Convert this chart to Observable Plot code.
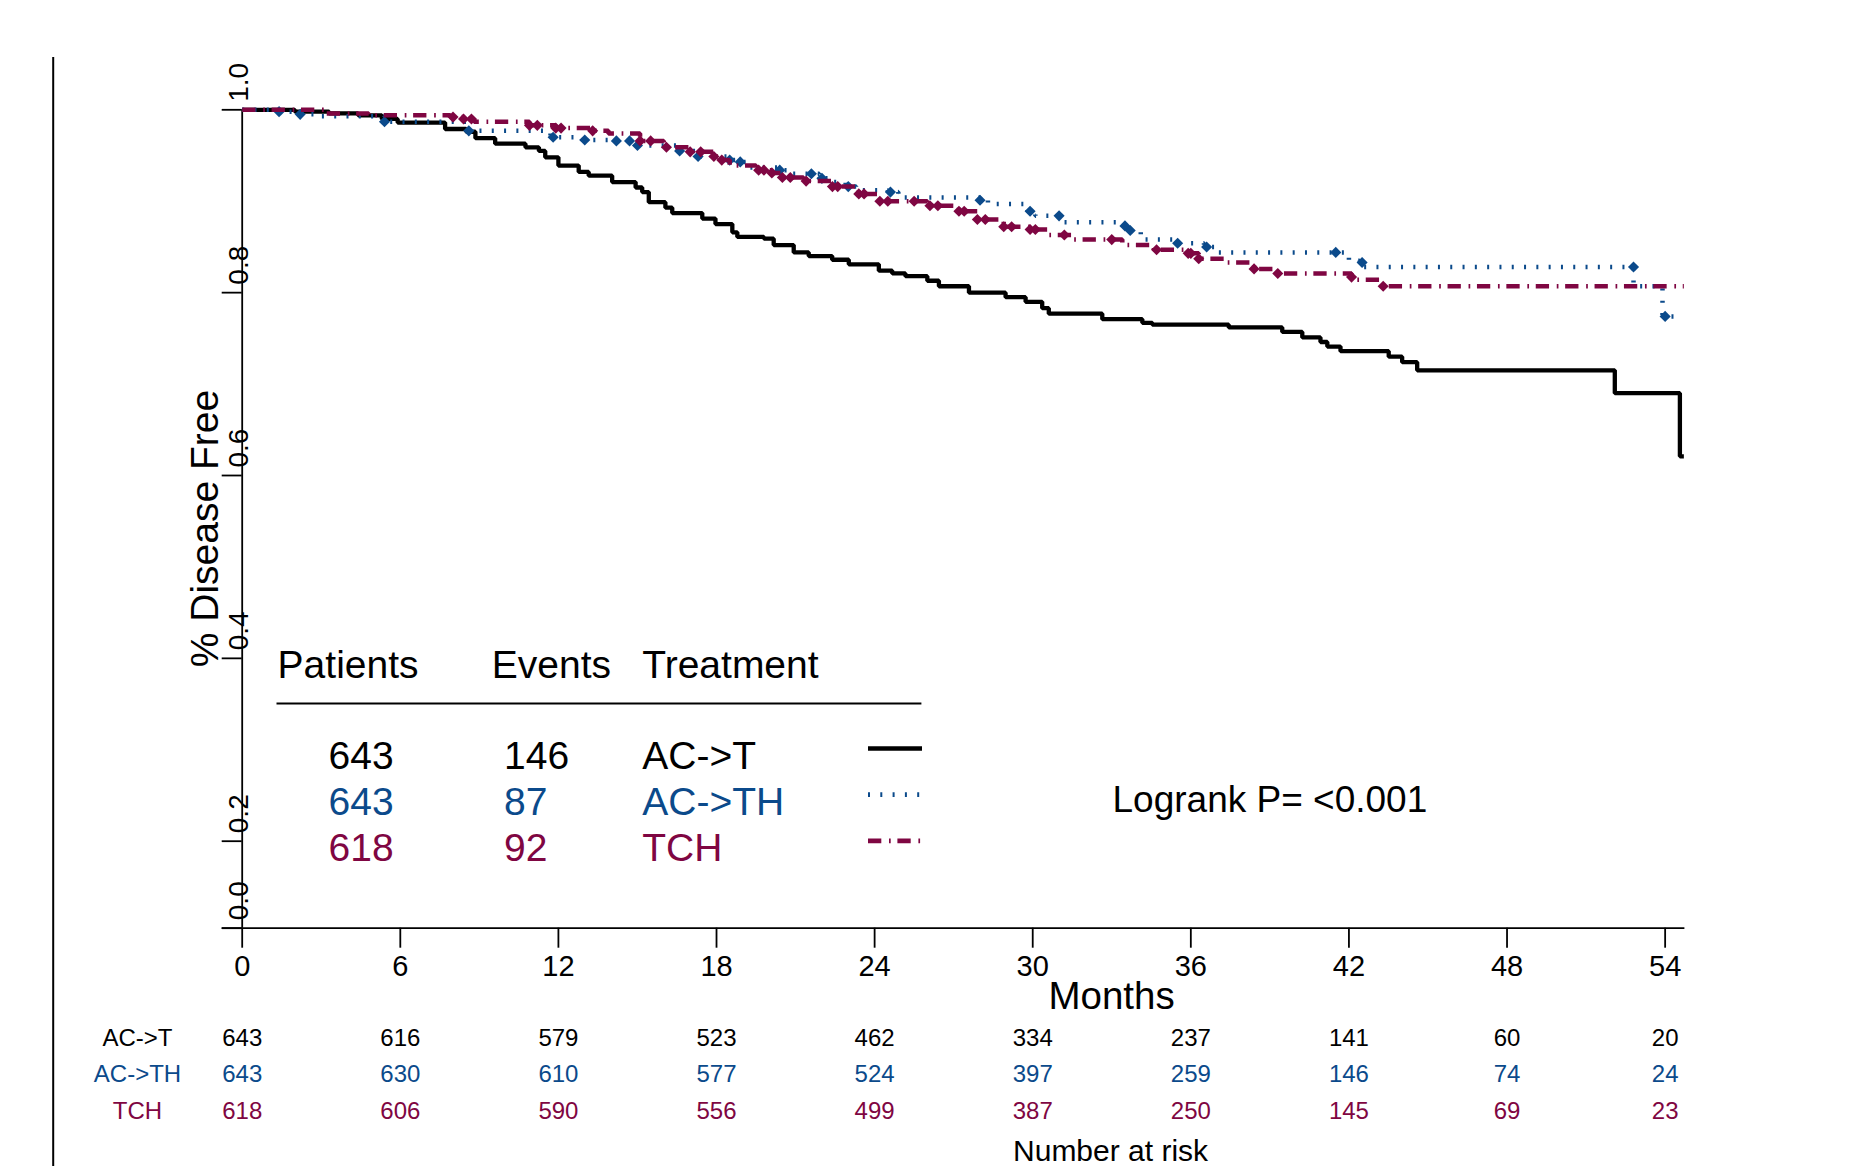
<!DOCTYPE html>
<html><head><meta charset="utf-8">
<script src="https://cdn.jsdelivr.net/npm/d3@7"></script>
<script src="https://cdn.jsdelivr.net/npm/@observablehq/plot@0.6"></script>
<style>html,body{margin:0;padding:0;background:#fff;overflow:hidden}#chart svg{display:block}</style>
</head><body><div id="chart"></div>
<script>
// ---------- data ----------
const monthTicks = [0, 6, 12, 18, 24, 30, 36, 42, 48, 54];
const yTicks = [0, 0.2, 0.4, 0.6, 0.8, 1.0];
const treatments = ["AC->T", "AC->TH", "TCH"];
const patients = [643, 643, 618];
const events = [146, 87, 92];
const riskACT  = [643, 616, 579, 523, 462, 334, 237, 141, 60, 20];
const riskACTH = [643, 630, 610, 577, 524, 397, 259, 146, 74, 24];
const riskTCH  = [618, 606, 590, 556, 499, 387, 250, 145, 69, 23];
const pValueText = "Logrank P= <0.001";

// Kaplan-Meier steps [month, survival]
const curveACT = [[0,1],[2.0,0.998],[3.3,0.996],[4.4,0.994],[5.3,0.990],[5.9,0.986],[7.7,0.979],[8.5,0.976],[8.85,0.969],[9.6,0.963],[10.75,0.959],[11.26,0.955],[11.5,0.948],[12.0,0.939],[12.77,0.932],[13.15,0.928],[14.04,0.921],[14.93,0.915],[15.18,0.910],[15.43,0.899],[16.06,0.893],[16.32,0.887],[17.46,0.881],[17.96,0.875],[18.6,0.866],[18.79,0.861],[19.8,0.859],[20.17,0.852],[20.93,0.844],[21.5,0.840],[22.39,0.836],[23.02,0.831],[24.16,0.824],[24.67,0.821],[25.17,0.818],[26.0,0.813],[26.44,0.807],[27.58,0.800],[28.97,0.795],[29.73,0.790],[30.36,0.783],[30.61,0.777],[32.64,0.771],[34.16,0.767],[34.54,0.765],[37.44,0.762],[39.47,0.757],[40.23,0.751],[40.92,0.746],[41.18,0.741],[41.68,0.736],[43.51,0.730],[44.02,0.724],[44.59,0.715],[52.09,0.690],[54.56,0.621],[54.71,0.621]];
const curveACTH = [[0,1],[1.3,0.998],[2.2,0.995],[3.0,0.993],[5.4,0.987],[8.5,0.977],[11.7,0.970],[12.9,0.967],[14.2,0.966],[14.9,0.961],[16.5,0.955],[17.3,0.949],[18.5,0.945],[18.8,0.943],[19.2,0.937],[20.4,0.934],[20.7,0.930],[21.9,0.925],[22.3,0.921],[22.9,0.916],[23.3,0.912],[24.5,0.910],[24.9,0.904],[28.0,0.901],[28.3,0.897],[29.8,0.889],[30.1,0.884],[31.2,0.877],[33.5,0.868],[34.1,0.858],[35.5,0.854],[36.5,0.850],[36.9,0.844],[42.0,0.835],[42.4,0.828],[52.8,0.807],[53.9,0.774],[54.6,0.774]];
const curveTCH = [[0,1],[3.2,0.996],[4.8,0.994],[7.9,0.992],[8.4,0.990],[8.8,0.987],[10.9,0.983],[11.9,0.980],[13.3,0.977],[13.9,0.974],[15.1,0.966],[16.0,0.959],[17.0,0.954],[17.9,0.949],[18.2,0.945],[18.5,0.939],[19.5,0.934],[20.1,0.931],[20.5,0.926],[21.3,0.922],[22.4,0.916],[23.4,0.908],[24.2,0.900],[26.0,0.895],[27.2,0.889],[27.9,0.880],[28.9,0.872],[29.9,0.869],[30.6,0.863],[31.5,0.858],[33.4,0.852],[34.6,0.847],[35.8,0.843],[36.3,0.837],[37.4,0.833],[38.4,0.826],[39.3,0.821],[42.1,0.814],[43.3,0.807],[54.71,0.807]];

// censoring marks [month, survival]
const censorACTH = [[1.4,0.998],[2.2,0.995],[5.4,0.987],[8.6,0.977],[11.8,0.970],[13.0,0.967],[14.2,0.966],[14.7,0.966],[15.0,0.961],[16.6,0.955],[17.3,0.949],[18.5,0.945],[18.9,0.943],[20.4,0.934],[21.6,0.930],[22.0,0.925],[23.0,0.916],[24.6,0.910],[28.0,0.901],[29.9,0.889],[31.0,0.884],[33.5,0.873],[33.7,0.868],[35.5,0.854],[36.6,0.850],[41.5,0.844],[42.5,0.833],[52.8,0.828],[54.0,0.774]];
const censorTCH = [[8.0,0.992],[8.4,0.990],[8.7,0.990],[10.9,0.983],[11.2,0.983],[11.9,0.980],[12.1,0.980],[13.3,0.977],[15.1,0.966],[15.5,0.966],[16.1,0.959],[17.0,0.954],[17.4,0.954],[17.9,0.949],[18.2,0.945],[19.6,0.934],[19.8,0.934],[20.1,0.931],[20.5,0.926],[20.8,0.926],[21.4,0.922],[22.4,0.916],[22.6,0.916],[23.4,0.908],[23.6,0.908],[24.2,0.900],[24.5,0.900],[25.5,0.900],[26.1,0.895],[26.4,0.895],[27.2,0.889],[27.4,0.889],[27.9,0.880],[28.2,0.880],[28.9,0.872],[29.2,0.872],[29.9,0.869],[30.1,0.869],[31.2,0.863],[33.0,0.858],[34.7,0.847],[35.9,0.843],[36.0,0.843],[36.3,0.837],[38.4,0.826],[39.3,0.821],[42.1,0.817],[43.3,0.807]];

// ---------- layout / style ----------
const W = 1849, H = 1166;
const mL = 241.7, mR = 164.6, mT = 109.3, mB = 238.3;
const fw = W - mL - mR, fh = H - mT - mB;
const FONT = "Liberation Sans, Arial, Helvetica, sans-serif";
const colors = ["#000000", "#0b4a8b", "#7f0642"];
const strokeWidths = [4.3, 4.5, 4.5];
const dashes = [null, "2 10.3", "13.3 7.7 1.7 6.7"];
const riskRows = [riskACT, riskACTH, riskTCH];
const riskDy = [109.8, 146.3, 183.3];
const xy = {x: d => d[0], y: d => d[1]};

function legendMark(index, scales, values, dims) {
  const L = dims.marginLeft, T = dims.marginTop;
  const g = d3.create("svg:g").attr("font-size", 39).attr("text-anchor", "start");
  const hx = [35.9, 250.1, 400.6];
  ["Patients", "Events", "Treatment"].forEach((h, i) => {
    g.append("text").attr("x", L + hx[i]).attr("y", T + 568.7).attr("fill", "#000").text(h);
  });
  g.append("line").attr("x1", L + 34.8).attr("x2", L + 679.7)
    .attr("y1", T + 594.2).attr("y2", T + 594.2).attr("stroke", "#000").attr("stroke-width", 2);
  const cx = [86.9, 262.3, 400.6];
  treatments.forEach((t, i) => {
    const yb = T + 659.7 + i * 46.2;
    const vals = [patients[i], events[i], t];
    vals.forEach((v, j) => {
      g.append("text").attr("x", L + cx[j]).attr("y", yb).attr("fill", colors[i]).text(String(v));
    });
    const ln = g.append("line").attr("x1", L + 626.3).attr("x2", L + 680.3)
      .attr("y1", yb - 20.5).attr("y2", yb - 20.5)
      .attr("stroke", colors[i]).attr("stroke-width", strokeWidths[i] + 0.3)
      .attr("stroke-linecap", "butt");
    if (dashes[i]) ln.attr("stroke-dasharray", dashes[i]);
  });
  return g.node();
}

const T = (opts) => ({lineAnchor: "middle", fill: "#000", ...opts});

const marks = [
  // left border rule
  Plot.ruleX([0], {dx: 52.7 - mL, insetTop: -(mT - 57), insetBottom: -mB, strokeWidth: 2}),
  // axes
  Plot.ruleX([0], {strokeWidth: 1.8}),
  Plot.ruleY([0], {insetLeft: -20, strokeWidth: 1.8}),
  Plot.ruleX(monthTicks, {x: d => d, insetTop: fh, insetBottom: -20, strokeWidth: 1.8}),
  Plot.ruleY(yTicks, {y: d => d, insetLeft: -20, insetRight: fw, strokeWidth: 1.8}),
  Plot.text(yTicks, T({y: d => d, text: d => d.toFixed(1), frameAnchor: "left", rotate: -90,
    textAnchor: "start", dx: -2.7, dy: -8, fontSize: 28})),
  Plot.text(monthTicks, T({x: d => d, text: d => String(d), frameAnchor: "bottom", textAnchor: "middle", dy: 39, fontSize: 29})),
  Plot.text(["% Disease Free"], T({text: d => d, frameAnchor: "left", textAnchor: "middle", rotate: -90, dx: -37, dy: 9.5, fontSize: 39})),
  Plot.text(["Months"], T({text: d => d, frameAnchor: "bottom", textAnchor: "middle", dx: 148, dy: 68.3, fontSize: 38.5})),
  // number at risk table
  ...riskRows.map((row, i) => Plot.text(row, T({x: (d, j) => monthTicks[j], text: d => String(d),
    frameAnchor: "bottom", textAnchor: "middle", dy: riskDy[i], fontSize: 24, fill: colors[i]}))),
  ...treatments.map((t, i) => Plot.text([t], T({text: d => d, frameAnchor: "bottom-left", textAnchor: "middle",
    dx: -104.7, dy: riskDy[i], fontSize: 24, fill: colors[i]}))),
  Plot.text(["Number at risk"], T({text: d => d, frameAnchor: "bottom", textAnchor: "middle", dx: 147, dy: 223, fontSize: 30})),
  Plot.text([pValueText], T({text: d => d, frameAnchor: "bottom-left", textAnchor: "start",
    dx: 870.3, dy: -127.7, fontSize: 37})),
  // curves
  Plot.line(curveACT, {...xy, curve: "step-after", stroke: colors[0], strokeWidth: strokeWidths[0],
    strokeLinecap: "butt", strokeLinejoin: "miter"}),
  Plot.line(curveACTH, {...xy, curve: "step-after", stroke: colors[1], strokeWidth: strokeWidths[1],
    strokeDasharray: dashes[1], strokeLinecap: "butt", strokeLinejoin: "miter"}),
  Plot.dot(censorACTH, {...xy, symbol: "diamond2", r: 5, fill: colors[1], stroke: "none"}),
  Plot.line(curveTCH, {...xy, curve: "step-after", stroke: colors[2], strokeWidth: strokeWidths[2],
    strokeDasharray: dashes[2], strokeLinecap: "butt", strokeLinejoin: "miter"}),
  Plot.dot(censorTCH, {...xy, symbol: "diamond2", r: 5, fill: colors[2], stroke: "none"}),
  legendMark
];

const chart = Plot.plot({
  width: W, height: H,
  marginLeft: mL, marginRight: mR, marginTop: mT, marginBottom: mB,
  style: {fontFamily: FONT, background: "white", color: "black"},
  x: {type: "linear", domain: [0, 54.75], axis: null},
  y: {type: "linear", domain: [0, 0.2, 1], range: [mT + fh, mT + fh - 87, mT], axis: null},
  marks
});
document.getElementById("chart").append(chart);
</script>
</body></html>
